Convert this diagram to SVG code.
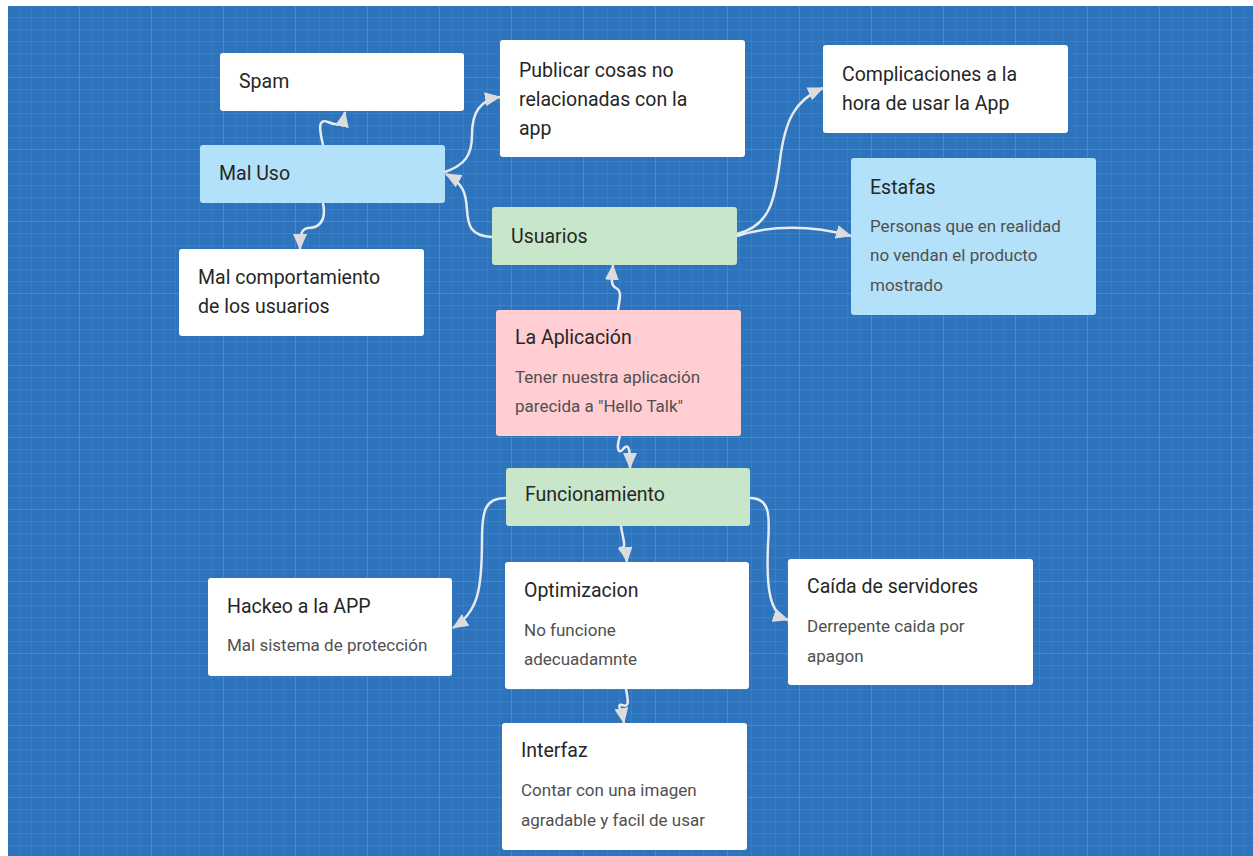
<svg xmlns="http://www.w3.org/2000/svg" width="1253" height="856" viewBox="0 0 1253 856">
  <defs>
    <pattern id="minor" width="12" height="12" patternUnits="userSpaceOnUse" x="8" y="6">
      <path d="M12 0V12M0 12H12" fill="none" stroke="#ffffff" stroke-opacity="0.12" stroke-width="1"/>
    </pattern>
    <pattern id="major" width="72" height="72" patternUnits="userSpaceOnUse" x="8" y="6">
      <path d="M72 0V72M0 72H72" fill="none" stroke="#ffffff" stroke-opacity="0.1" stroke-width="1.5"/>
    </pattern>
    <marker id="arrow" viewBox="0 0 16 14" refX="15" refY="7" markerWidth="16" markerHeight="14" markerUnits="userSpaceOnUse" orient="auto">
      <path d="M0 0L16 7L0 14Z" fill="#dcdcdc"/>
    </marker>
    <style>
      .card { stroke: none; }
      .white { fill: #ffffff; }
      .blue { fill: #b3e1f9; }
      .green { fill: #c8e6c9; }
      .pink { fill: #ffcdd2; }
      .title { font-family: Roboto, "Liberation Sans", sans-serif; font-size: 19.5px; fill: #262626; }
      .body { font-family: Roboto, "Liberation Sans", sans-serif; font-size: 17px; fill: #505050; }
      .link { fill: none; stroke: #e6ebf0; stroke-width: 2.5; marker-end: url(#arrow); }
    </style>
  </defs>

  <!-- board background -->
  <rect x="0" y="0" width="1253" height="856" fill="#ffffff"/>
  <rect x="8" y="6" width="1245" height="850" fill="#2e74bc"/>
  <rect x="8" y="6" width="1245" height="850" fill="url(#minor)"/>
  <rect x="8" y="6" width="1245" height="850" fill="url(#major)"/>

  <!-- connectors -->
  <g id="connectors">
    <path class="link" d="M323,145 C319,128 318,118 328,122 C337,126 342,126 345,112"/>
    <path class="link" d="M323,203 C327,222 318,228 308,228 C300,229 300,238 300,249"/>
    <path class="link" d="M492,237 C470,236 468,225 467,210 C466,194 464,184 446,174"/>
    <path class="link" d="M445,172 C465,165 472,155 472,135 C472,112 480,100 500,97"/>
    <path class="link" d="M737,234 C770,226 775,200 780,160 C785,120 795,100 823,88"/>
    <path class="link" d="M737,236 C770,225 812,225 851,236"/>
    <path class="link" d="M618,310 C620,298 622,291 616,288 C610,285 612,278 613,265"/>
    <path class="link" d="M620,436 C616,448 618,456 624,448 C630,442 630,455 630,468"/>
    <path class="link" d="M506,498 C485,498 482,510 482,540 C482,590 478,612 453,628"/>
    <path class="link" d="M621,526 C623,540 627,548 621,548 C616,548 626,552 627,562"/>
    <path class="link" d="M750,498 C770,498 770,515 768,545 C766,590 770,614 788,620"/>
    <path class="link" d="M626,689 C628,700 630,708 622,705 C616,703 622,712 624,723"/>
  </g>

  <g id="spam">
    <rect class="card white" x="220" y="53" width="244" height="58" rx="3"/>
    <text class="title" x="239" y="88">Spam</text>
  </g>

  <g id="mal-uso">
    <rect class="card blue" x="200" y="145" width="245" height="58" rx="3"/>
    <text class="title" x="219" y="180">Mal Uso</text>
  </g>

  <g id="publicar">
    <rect class="card white" x="500" y="40" width="245" height="117" rx="3"/>
    <text class="title" x="519" y="77">Publicar cosas no</text>
    <text class="title" x="519" y="106">relacionadas con la</text>
    <text class="title" x="519" y="135">app</text>
  </g>

  <g id="complicaciones">
    <rect class="card white" x="823" y="45" width="245" height="88" rx="3"/>
    <text class="title" x="842" y="81">Complicaciones a la</text>
    <text class="title" x="842" y="110">hora de usar la App</text>
  </g>

  <g id="estafas">
    <rect class="card blue" x="851" y="158" width="245" height="157" rx="3"/>
    <text class="title" x="870" y="194">Estafas</text>
    <text class="body" x="870" y="232">Personas que en realidad</text>
    <text class="body" x="870" y="261">no vendan el producto</text>
    <text class="body" x="870" y="291">mostrado</text>
  </g>

  <g id="usuarios">
    <rect class="card green" x="492" y="207" width="245" height="58" rx="3"/>
    <text class="title" x="511" y="243">Usuarios</text>
  </g>

  <g id="mal-comportamiento">
    <rect class="card white" x="179" y="249" width="245" height="87" rx="3"/>
    <text class="title" x="198" y="284">Mal comportamiento</text>
    <text class="title" x="198" y="313">de los usuarios</text>
  </g>

  <g id="la-aplicacion">
    <rect class="card pink" x="496" y="310" width="245" height="126" rx="3"/>
    <text class="title" x="515" y="344">La Aplicación</text>
    <text class="body" x="515" y="383">Tener nuestra aplicación</text>
    <text class="body" x="515" y="412">parecida a "Hello Talk"</text>
  </g>

  <g id="funcionamiento">
    <rect class="card green" x="506" y="468" width="244" height="58" rx="3"/>
    <text class="title" x="525" y="501">Funcionamiento</text>
  </g>

  <g id="hackeo">
    <rect class="card white" x="208" y="578" width="244" height="98" rx="3"/>
    <text class="title" x="227" y="613">Hackeo a la APP</text>
    <text class="body" x="227" y="651">Mal sistema de protección</text>
  </g>

  <g id="optimizacion">
    <rect class="card white" x="505" y="562" width="244" height="127" rx="3"/>
    <text class="title" x="524" y="597">Optimizacion</text>
    <text class="body" x="524" y="636">No funcione</text>
    <text class="body" x="524" y="665">adecuadamnte</text>
  </g>

  <g id="caida-servidores">
    <rect class="card white" x="788" y="559" width="245" height="126" rx="3"/>
    <text class="title" x="807" y="593">Caída de servidores</text>
    <text class="body" x="807" y="632">Derrepente caida por</text>
    <text class="body" x="807" y="662">apagon</text>
  </g>

  <g id="interfaz">
    <rect class="card white" x="502" y="723" width="245" height="127" rx="3"/>
    <text class="title" x="521" y="757">Interfaz</text>
    <text class="body" x="521" y="796">Contar con una imagen</text>
    <text class="body" x="521" y="826">agradable y facil de usar</text>
  </g>
</svg>
